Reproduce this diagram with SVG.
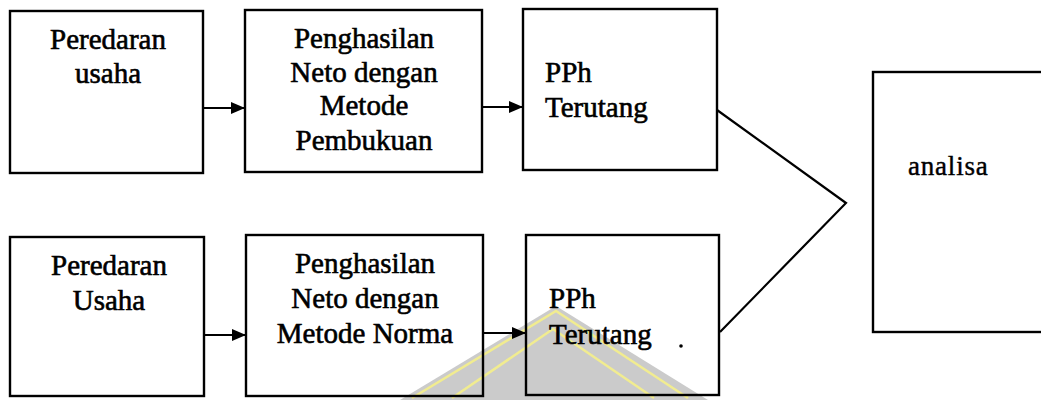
<svg xmlns="http://www.w3.org/2000/svg" width="1041" height="400" viewBox="0 0 1041 400">
<defs>
<style>
.box{fill:none;stroke:#000;stroke-width:2.4}
.t{font-family:"Liberation Serif","Times New Roman",serif;font-size:29px;fill:#000;stroke:#000;stroke-width:0.6}
.c{text-anchor:middle}
.ln{fill:none;stroke:#000;stroke-width:2.2}
.wm{fill:none;stroke:#f5ef8a;stroke-width:2.5;opacity:0.9}
</style>
<marker id="ah" viewBox="0 0 14 12" refX="14" refY="6" markerWidth="14" markerHeight="12" markerUnits="userSpaceOnUse" orient="auto">
<path d="M0,0 L14,6 L0,12 Z" fill="#000"/>
</marker>
</defs>
<rect width="1041" height="400" fill="#fff"/>
<g id="watermark">
<polygon points="556,306 708,400 400,400" fill="#cbcbcb"/>
<polyline class="wm" points="412,398 556,311 688,398"/>
<polyline class="wm" points="452,398 553,329 654,398"/>
</g>
<g id="n1"><rect class="box" x="10" y="11" width="193" height="162"/>
<text class="t c" x="108" y="49">Peredaran</text><text class="t c" x="108" y="83">usaha</text></g>
<g id="n2"><rect class="box" x="245" y="10" width="237" height="162"/>
<text class="t c" x="364" y="48">Penghasilan</text><text class="t c" x="364" y="82">Neto dengan</text><text class="t c" x="364" y="115">Metode</text><text class="t c" x="364" y="150">Pembukuan</text></g>
<g id="n3"><rect class="box" x="523" y="9" width="194" height="161"/>
<text class="t" x="545" y="82">PPh</text><text class="t" x="545" y="117">Terutang</text></g>
<g id="n4"><rect class="box" x="10" y="237" width="194" height="159"/>
<text class="t c" x="109" y="275">Peredaran</text><text class="t c" x="109" y="310">Usaha</text></g>
<g id="n5"><rect class="box" x="246" y="235" width="237" height="161"/>
<text class="t c" x="365" y="273">Penghasilan</text><text class="t c" x="365" y="308">Neto dengan</text><text class="t c" x="365" y="343">Metode Norma</text></g>
<g id="n6"><rect class="box" x="526" y="235" width="193" height="160"/>
<text class="t" x="549" y="308">PPh</text><text class="t" x="549" y="344">Terutang</text>
<circle cx="681" cy="346" r="1.8" fill="#000"/></g>
<g id="n7"><rect class="box" x="873" y="72" width="175" height="260"/>
<text class="t" x="908" y="175" style="font-size:27px;letter-spacing:0.8px;stroke-width:0.4">analisa</text></g>
<g id="connectors">
<line class="ln" x1="203" y1="108" x2="245" y2="108" marker-end="url(#ah)"/>
<line class="ln" x1="482" y1="107" x2="523" y2="107" marker-end="url(#ah)"/>
<line class="ln" x1="204" y1="335" x2="246" y2="335" marker-end="url(#ah)"/>
<line class="ln" x1="483" y1="333" x2="526" y2="333" marker-end="url(#ah)"/>
<polyline class="ln" points="717,110 846,203 720,332"/>
</g>
</svg>
